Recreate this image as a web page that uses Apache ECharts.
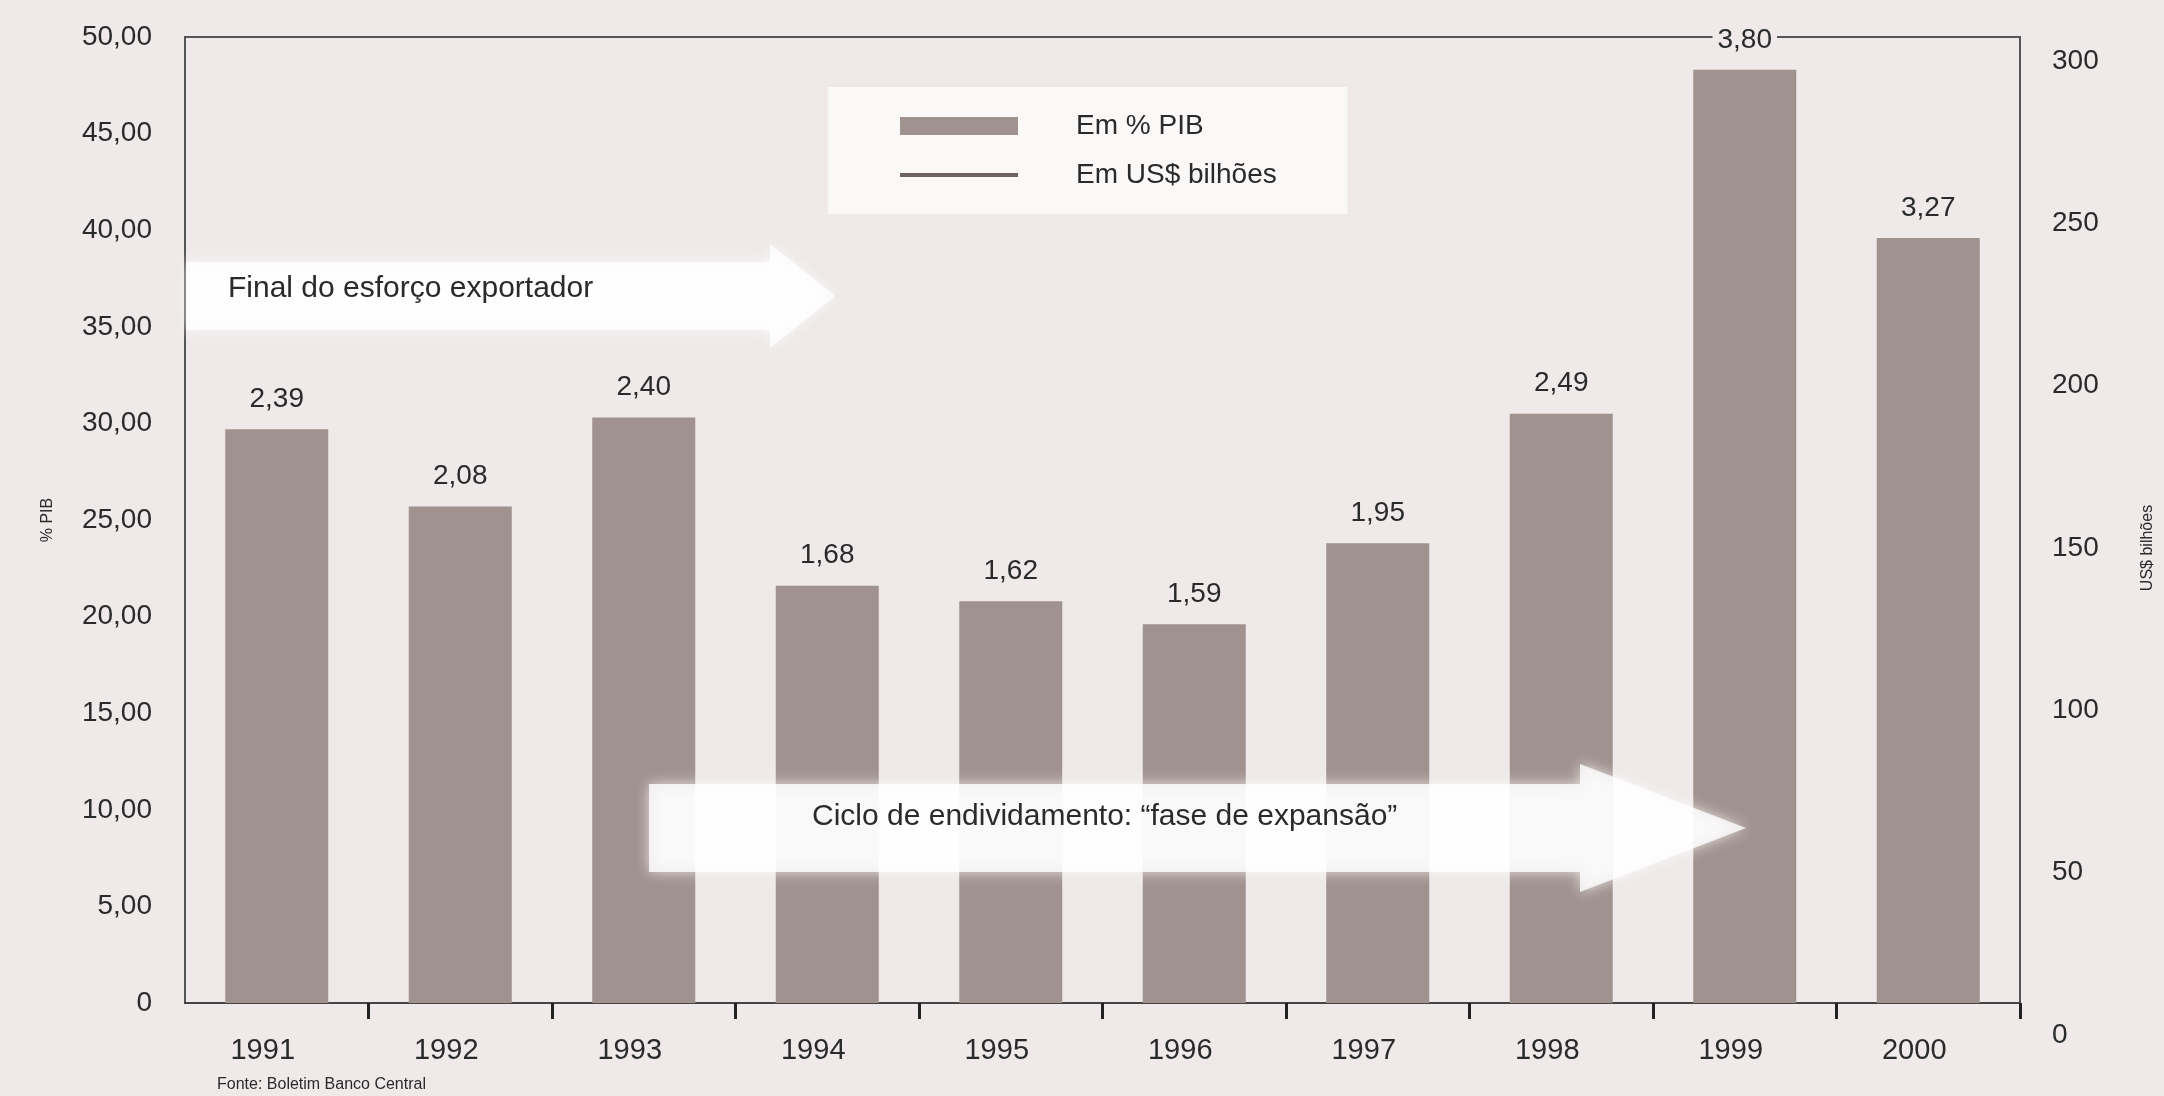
<!DOCTYPE html>
<html>
<head>
<meta charset="utf-8">
<script src="https://cdn.jsdelivr.net/npm/echarts@6/dist/echarts.min.js"></script>
<style>
html,body{margin:0;padding:0;background:#efe9e9;}
#chart{width:2164px;height:1096px;}
</style>
</head>
<body>
<div id="chart"></div>
<script>
const categories = ['1991','1992','1993','1994','1995','1996','1997','1998','1999','2000'];
const pibValues = [29.7, 25.7, 30.3, 21.6, 20.8, 19.6, 23.8, 30.5, 48.3, 39.6];
const barLabels = ['2,39','2,08','2,40','1,68','1,62','1,59','1,95','2,49','3,80','3,27'];
const usdValues = [];
const leftTickMin = 0, leftTickMax = 50, leftTickStep = 5;
const rightTickMin = 0, rightTickMax = 300, rightTickStep = 50;

const BG = '#efe9e9';
const FONT = '"Liberation Sans", Arial, sans-serif';
const TXT = '#2a2a2a';

const chart = echarts.init(document.getElementById('chart'));
chart.setOption({
  backgroundColor: BG,
  animation: false,
  textStyle: {fontFamily: FONT, color: TXT},
  title: {
    text: 'Fonte: Boletim Banco Central',
    left: 212, bottom: -2,
    textStyle: {fontSize: 16, fontWeight: 'normal', color: TXT, fontFamily: FONT}
  },
  legend: [
    {
      data: [{name: 'Em % PIB', icon: 'rect'}],
      orient: 'vertical',
      left: 828, top: 87,
      padding: [25, 144, 74, 72],
      itemWidth: 118, itemHeight: 18,
      backgroundColor: '#fbf8f8',
      textStyle: {fontSize: 28, color: TXT, fontFamily: FONT, padding: [0, 0, 0, 53]},
      z: 4
    },
    {
      data: [{name: 'Em US$ bilhões', icon: 'rect'}],
      orient: 'vertical',
      left: 900, top: 161,
      padding: 0,
      itemWidth: 118, itemHeight: 4,
      textStyle: {fontSize: 28, color: TXT, fontFamily: FONT, padding: [0, 0, 0, 53]},
      z: 6
    }
  ],
  grid: [
    {left: 185, right: 144, top: 37, bottom: 93, show: true, borderColor: '#555', borderWidth: 2, backgroundColor: 'transparent'},
    {left: 185, right: 144, top: 61, bottom: 61, show: false}
  ],
  xAxis: [
    {
      type: 'category', data: categories, gridIndex: 0,
      axisLine: {show: true, lineStyle: {color: '#444', width: 2}},
      axisTick: {show: true, length: 16, interval: (i) => i !== 0, lineStyle: {color: '#222', width: 3}},
      axisLabel: {fontSize: 29, color: TXT, margin: 33, padding: [0, 28, 0, 0], fontFamily: FONT}
    },
    {type: 'category', data: categories, gridIndex: 1, show: false}
  ],
  yAxis: [
    {
      type: 'value', gridIndex: 0, min: leftTickMin, max: leftTickMax, interval: leftTickStep,
      name: '% PIB', nameLocation: 'middle', nameRotate: 90, nameGap: 129,
      nameTextStyle: {fontSize: 16, color: TXT, fontFamily: FONT},
      axisLine: {show: true, lineStyle: {color: '#555', width: 2}},
      axisTick: {show: false},
      splitLine: {show: false},
      axisLabel: {
        fontSize: 28, color: TXT, margin: 33, fontFamily: FONT,
        formatter: v => v === 0 ? '0' : v.toFixed(2).replace('.', ',')
      }
    },
    {
      type: 'value', gridIndex: 1, position: 'right', min: rightTickMin, max: rightTickMax, interval: rightTickStep,
      name: 'US$ bilhões', nameLocation: 'middle', nameRotate: 90, nameGap: 124,
      nameTextStyle: {fontSize: 16, color: TXT, fontFamily: FONT},
      axisLine: {show: false}, axisTick: {show: false}, splitLine: {show: false},
      axisLabel: {fontSize: 28, color: TXT, margin: 36, fontFamily: FONT}
    }
  ],
  series: [
    {
      name: 'Em % PIB', type: 'bar', xAxisIndex: 0, yAxisIndex: 0,
      data: pibValues, barWidth: 103, z: 3,
      itemStyle: {color: '#a0928f'},
      label: {
        show: true, position: 'top', distance: 16,
        fontSize: 28, color: TXT, fontFamily: FONT,
        backgroundColor: BG, padding: [0, 5],
        formatter: p => barLabels[p.dataIndex]
      }
    },
    {
      name: 'Em US$ bilhões', type: 'line', xAxisIndex: 1, yAxisIndex: 1,
      data: usdValues, symbol: 'none',
      lineStyle: {color: '#6e6361', width: 4},
      itemStyle: {color: '#6e6361'}
    }
  ],
  graphic: [
    {
      type: 'polygon', z: 10,
      shape: {points: [[186, 262], [770, 262], [770, 244], [835, 296], [770, 348], [770, 330], [186, 330]]},
      style: {fill: 'rgba(255,255,255,0.78)', shadowBlur: 14, shadowColor: 'rgba(255,255,255,0.9)'}
    },
    {
      type: 'text', z: 11, left: 228, top: 274,
      style: {text: 'Final do esforço exportador', fontSize: 30, fill: TXT, fontFamily: FONT}
    },
    {
      type: 'polygon', z: 10,
      shape: {points: [[649, 784], [1580, 784], [1580, 764], [1746, 828], [1580, 892], [1580, 872], [649, 872]]},
      style: {fill: 'rgba(255,255,255,0.8)', shadowBlur: 14, shadowColor: 'rgba(255,255,255,0.9)'}
    },
    {
      type: 'text', z: 11, left: 812, top: 802,
      style: {text: 'Ciclo de endividamento: “fase de expansão”', fontSize: 30, fill: TXT, fontFamily: FONT}
    }
  ]
});
</script>
</body>
</html>
